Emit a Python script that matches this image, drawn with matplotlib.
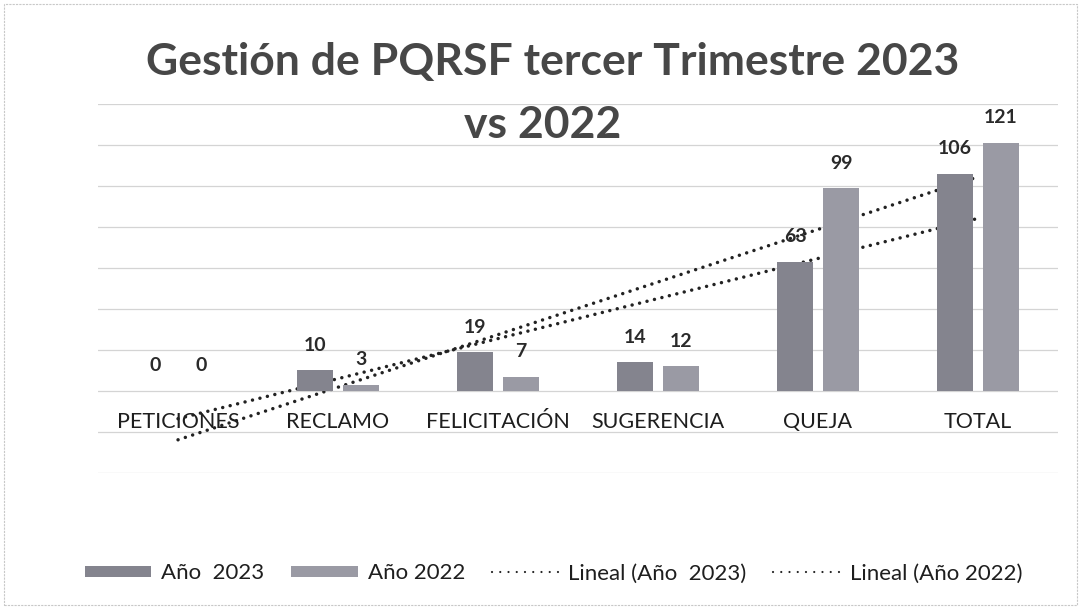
import numpy as np
import matplotlib
matplotlib.use("Agg")
import matplotlib.pyplot as plt
from matplotlib.patches import Patch, Rectangle
from matplotlib.lines import Line2D

plt.rcParams['font.family'] = ['Lato', 'DejaVu Sans']

categories = ["PETICIONES", "RECLAMO", "FELICITACIÓN", "SUGERENCIA", "QUEJA", "TOTAL"]
anio_2023 = [0, 10, 19, 14, 63, 106]
anio_2022 = [0, 3, 7, 12, 99, 121]
series_names = ["Año  2023", "Año 2022", "Lineal (Año  2023)", "Lineal (Año 2022)"]
title_lines = ["Gestión de PQRSF tercer Trimestre 2023", "vs 2022"]

c2023 = "#84848e"
c2022 = "#9a9aa4"
trend_color = "#222222"

fig = plt.figure(figsize=(10.81, 6.10), dpi=100)
ax = fig.add_axes([0.0907, 0.2246, 0.888, 0.6049])

x = np.arange(1, len(categories) + 1)
off = 0.144
w = 0.22

# trendlines (linear fit) drawn under bars
for vals in (anio_2023, anio_2022):
    k, b = np.polyfit(x, vals, 1)
    ax.plot(x, k * x + b, linestyle=(0, (0.01, 2.2)), color=trend_color,
            linewidth=2.5, zorder=2, dash_capstyle='round')

b1 = ax.bar(x - off, anio_2023, width=w, color=c2023, zorder=3)
b2 = ax.bar(x + off, anio_2022, width=w, color=c2022, zorder=3)

for bars, vals in ((b1, anio_2023), (b2, anio_2022)):
    for r, v in zip(bars, vals):
        ax.annotate(str(v), (r.get_x() + r.get_width() / 2, v),
                    xytext=(0, 18), textcoords="offset points",
                    ha="center", va="center", fontsize=14, fontweight="bold",
                    color="#2a2a2a", zorder=4)

ax.set_xlim(0.5, 6.5)
ax.set_ylim(-40, 140)
ax.set_yticks(np.arange(-40, 141, 20))
ax.yaxis.grid(True, color="#d4d4d4", linewidth=0.9)
ax.set_axisbelow(True)
ax.tick_params(axis='y', left=False, labelleft=False)
for s in ("left", "right", "top"):
    ax.spines[s].set_visible(False)
ax.spines["bottom"].set_position(("data", 0))
ax.spines["bottom"].set_visible(False)
ax.set_xticks(x)
ax.set_xticklabels(categories, fontsize=15.5, color="#1e1e1e")
ax.tick_params(axis='x', length=0, pad=15)

fig.text(0.5115, 0.898, title_lines[0], ha="center", va="center", fontsize=32,
         fontweight="bold", color="#474747")
fig.text(0.502, 0.795, title_lines[1], ha="center", va="center", fontsize=32,
         fontweight="bold", color="#474747")

handles = [Patch(facecolor=c2023, edgecolor="none"),
           Patch(facecolor=c2022, edgecolor="none"),
           Line2D([], [], linestyle=(0, (0.01, 3.7)), color=trend_color, linewidth=1.6,
                  dash_capstyle='round'),
           Line2D([], [], linestyle=(0, (0.01, 3.7)), color=trend_color, linewidth=1.6,
                  dash_capstyle='round')]
fig.legend(handles, series_names, loc="center", bbox_to_anchor=(0.512, 0.060),
           ncol=4, frameon=False, fontsize=16, handlelength=3.0, handleheight=0.45,
           columnspacing=1.2, handletextpad=0.45, labelcolor="#1e1e1e")

fig.patches.append(Rectangle((0.004, 0.008), 0.992, 0.985, transform=fig.transFigure,
                             fill=False, edgecolor="#c8c8c8", linewidth=0.8,
                             linestyle=(0, (2, 1))))

fig.savefig("out.png", dpi=100)
